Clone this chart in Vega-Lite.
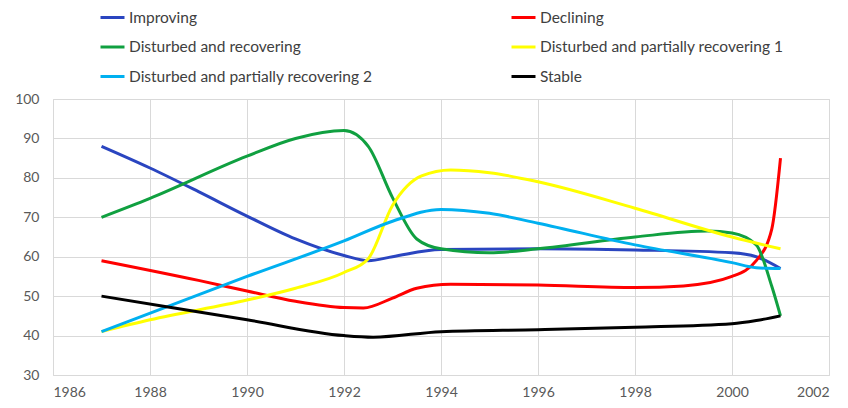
{
  "$schema": "https://vega.github.io/schema/vega-lite/v6.json",
  "width": 776,
  "height": 276,
  "autosize": {"type": "none"},
  "padding": {"left": 53, "top": 99, "right": 19, "bottom": 33},
  "background": "white",
  "config": {
    "view": {"stroke": "#d9d9d9"},
    "font": "Lato",
    "axis": {"gridColor": "#d9d9d9", "gridWidth": 1, "domain": false, "ticks": false, "labelColor": "#595959", "labelFontSize": 14, "labelFont": "Lato", "title": null}
  },
  "datasets": {
    "series": [
      {"s": "Improving", "year": 1987, "v": 88},
      {"s": "Improving", "year": 1988, "v": 82.5},
      {"s": "Improving", "year": 1989, "v": 76.5},
      {"s": "Improving", "year": 1990, "v": 70.3},
      {"s": "Improving", "year": 1991, "v": 64.5},
      {"s": "Improving", "year": 1992, "v": 60.3},
      {"s": "Improving", "year": 1992.5, "v": 59},
      {"s": "Improving", "year": 1993, "v": 60},
      {"s": "Improving", "year": 1994, "v": 61.8},
      {"s": "Improving", "year": 1996, "v": 62},
      {"s": "Improving", "year": 1998, "v": 61.7},
      {"s": "Improving", "year": 2000, "v": 61},
      {"s": "Improving", "year": 2000.5, "v": 60},
      {"s": "Improving", "year": 2001, "v": 57},
      {"s": "Declining", "year": 1987, "v": 59},
      {"s": "Declining", "year": 1989, "v": 54},
      {"s": "Declining", "year": 1990, "v": 51.3},
      {"s": "Declining", "year": 1991, "v": 48.7},
      {"s": "Declining", "year": 1992, "v": 47.1},
      {"s": "Declining", "year": 1992.4, "v": 47},
      {"s": "Declining", "year": 1993, "v": 49.5},
      {"s": "Declining", "year": 1993.5, "v": 52},
      {"s": "Declining", "year": 1994.2, "v": 53},
      {"s": "Declining", "year": 1996, "v": 52.8},
      {"s": "Declining", "year": 1998, "v": 52.2},
      {"s": "Declining", "year": 1999, "v": 52.6},
      {"s": "Declining", "year": 2000, "v": 55},
      {"s": "Declining", "year": 2000.5, "v": 59},
      {"s": "Declining", "year": 2000.82, "v": 67},
      {"s": "Declining", "year": 2001, "v": 85},
      {"s": "Disturbed and recovering", "year": 1987, "v": 70},
      {"s": "Disturbed and recovering", "year": 1988, "v": 74.8},
      {"s": "Disturbed and recovering", "year": 1990, "v": 85.5},
      {"s": "Disturbed and recovering", "year": 1991, "v": 90},
      {"s": "Disturbed and recovering", "year": 1992, "v": 92},
      {"s": "Disturbed and recovering", "year": 1992.5, "v": 88},
      {"s": "Disturbed and recovering", "year": 1993, "v": 75},
      {"s": "Disturbed and recovering", "year": 1993.5, "v": 64.5},
      {"s": "Disturbed and recovering", "year": 1994, "v": 62},
      {"s": "Disturbed and recovering", "year": 1995, "v": 61},
      {"s": "Disturbed and recovering", "year": 1996, "v": 62},
      {"s": "Disturbed and recovering", "year": 1998, "v": 65},
      {"s": "Disturbed and recovering", "year": 1999.5, "v": 66.5},
      {"s": "Disturbed and recovering", "year": 2000, "v": 66},
      {"s": "Disturbed and recovering", "year": 2000.5, "v": 63},
      {"s": "Disturbed and recovering", "year": 2000.82, "v": 52.5},
      {"s": "Disturbed and recovering", "year": 2001, "v": 45},
      {"s": "Disturbed and partially recovering 1", "year": 1987, "v": 41},
      {"s": "Disturbed and partially recovering 1", "year": 1988, "v": 44},
      {"s": "Disturbed and partially recovering 1", "year": 1990, "v": 49},
      {"s": "Disturbed and partially recovering 1", "year": 1991, "v": 52},
      {"s": "Disturbed and partially recovering 1", "year": 1992, "v": 56},
      {"s": "Disturbed and partially recovering 1", "year": 1992.5, "v": 59.5},
      {"s": "Disturbed and partially recovering 1", "year": 1993, "v": 73},
      {"s": "Disturbed and partially recovering 1", "year": 1993.6, "v": 80.5},
      {"s": "Disturbed and partially recovering 1", "year": 1994.2, "v": 82},
      {"s": "Disturbed and partially recovering 1", "year": 1995, "v": 81.3},
      {"s": "Disturbed and partially recovering 1", "year": 1996, "v": 79},
      {"s": "Disturbed and partially recovering 1", "year": 1998, "v": 72.3},
      {"s": "Disturbed and partially recovering 1", "year": 2000, "v": 65},
      {"s": "Disturbed and partially recovering 1", "year": 2001, "v": 62},
      {"s": "Disturbed and partially recovering 2", "year": 1987, "v": 41},
      {"s": "Disturbed and partially recovering 2", "year": 1990, "v": 55},
      {"s": "Disturbed and partially recovering 2", "year": 1992, "v": 64},
      {"s": "Disturbed and partially recovering 2", "year": 1993, "v": 69},
      {"s": "Disturbed and partially recovering 2", "year": 1994, "v": 72},
      {"s": "Disturbed and partially recovering 2", "year": 1995, "v": 71},
      {"s": "Disturbed and partially recovering 2", "year": 1996, "v": 68.5},
      {"s": "Disturbed and partially recovering 2", "year": 1998, "v": 63},
      {"s": "Disturbed and partially recovering 2", "year": 2000, "v": 58.5},
      {"s": "Disturbed and partially recovering 2", "year": 2000.5, "v": 57.2},
      {"s": "Disturbed and partially recovering 2", "year": 2001, "v": 57},
      {"s": "Stable", "year": 1987, "v": 50},
      {"s": "Stable", "year": 1990, "v": 44},
      {"s": "Stable", "year": 1992, "v": 40},
      {"s": "Stable", "year": 1992.6, "v": 39.6},
      {"s": "Stable", "year": 1994, "v": 41},
      {"s": "Stable", "year": 1996, "v": 41.5},
      {"s": "Stable", "year": 1998, "v": 42.1},
      {"s": "Stable", "year": 2000, "v": 43},
      {"s": "Stable", "year": 2000.5, "v": 43.8},
      {"s": "Stable", "year": 2001, "v": 45}
    ]
  },
  "data": {"name": "series"},
  "mark": {"type": "line", "interpolate": "monotone", "strokeWidth": 3},
  "encoding": {
    "x": {"field": "year", "type": "quantitative", "scale": {"domain": [1986, 2002], "nice": false}, "axis": {"values": [1986, 1988, 1990, 1992, 1994, 1996, 1998, 2000, 2002], "format": "d", "labelPadding": 10}},
    "y": {"field": "v", "type": "quantitative", "scale": {"domain": [30, 100], "nice": false}, "axis": {"values": [30, 40, 50, 60, 70, 80, 90, 100], "labelPadding": 14}},
    "color": {
      "field": "s", "type": "nominal",
      "scale": {
        "domain": ["Improving", "Disturbed and recovering", "Disturbed and partially recovering 2", "Declining", "Disturbed and partially recovering 1", "Stable"],
        "range": ["#2a45c0", "#10a040", "#00b0f0", "#ff0000", "#ffff00", "#000000"]
      },
      "legend": {
        "title": null, "orient": "none", "legendX": 46, "legendY": -95, "columns": 2, "columnPadding": 132, "rowPadding": 7.5,
        "symbolType": "stroke", "symbolSize": 576, "symbolStrokeWidth": 3, "labelFontSize": 15.5, "labelColor": "#404040", "labelFont": "Lato", "labelOffset": 3, "labelLimit": 400
      }
    }
  }
}
